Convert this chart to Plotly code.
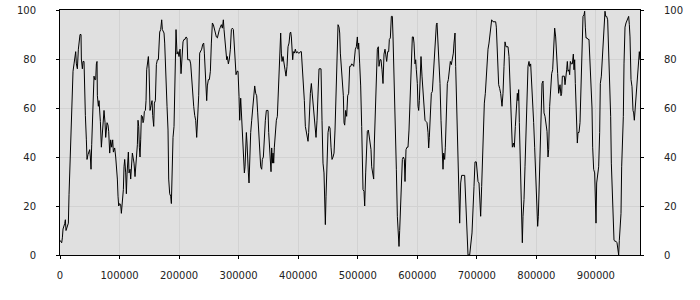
import plotly.graph_objects as go

x_values = [
    0, 1730, 2850, 3970, 5090, 7890, 9010, 10130, 12370, 14050, 15170, 16290, 17970, 19650,
    21890, 23570, 25250, 26370, 27490, 29170, 30850, 32530, 33640, 35320, 35880, 37560, 38680,
    40360, 40920, 42600, 44280, 45400, 47080, 48760, 49880, 50990, 52110, 53230, 54350, 55470,
    57150, 58270, 59950, 61070, 62190, 62750, 64430, 65550, 66670, 67790, 69470, 70590, 72270,
    73950, 75630, 76750, 77870, 78990, 80670, 81790, 83470, 85150, 86830, 88510, 89630, 91870,
    93550, 94670, 96350, 97460, 98580, 100260, 101940, 103060, 104740, 106420, 107540, 108660,
    110340, 111460, 112580, 113700, 114820, 115930, 117610, 118730, 119850, 121530, 122650,
    124330, 126010, 127130, 128250, 129930, 131050, 132170, 133290, 134410, 135530, 136650,
    138330, 139450, 140570, 141690, 143370, 144490, 145610, 146730, 148410, 149530, 151210,
    152890, 154570, 155690, 157370, 158490, 160170, 161850, 163530, 165210, 166890,
    167430, 169100, 170780, 171900, 173020, 174700, 175820, 176940, 178060, 179740, 181420,
    182540, 184220, 185900, 187020, 188140, 189820, 191500, 193180, 194850, 196530, 198210,
    199890, 201570, 203250, 204930, 206610, 208290, 209970, 211650, 213330, 214450, 216130,
    217810, 219490, 221170, 222840, 224520, 226200, 227880, 229560, 231240, 232920, 234600,
    236280, 237960, 239640, 241320, 242440, 243560, 245240, 246360, 247470, 249150, 250830,
    252510, 254190, 255870, 257550, 259230, 260910, 262590, 264270, 265950, 267630, 269310,
    270990, 272670, 274340, 275460, 276580, 278260, 279940, 281060, 282740, 284420, 286100,
    287780, 289460, 291140, 292820, 294500, 295620, 297300, 298970, 300650, 301770, 303450,
    305130, 306810, 308490, 309610, 310730, 311850, 312970, 314090, 315210, 316330, 317450,
    318560, 320240, 321920, 323600, 325280, 326960, 328640, 330320, 332000, 333680,
    335360, 337040, 338720, 339830, 341510, 343190, 344870, 346550, 348230, 349350, 350470,
    351590, 353270, 354390, 355510, 356630, 357750, 358870, 359990, 361670, 363340, 365020,
    366700, 368380, 369500, 370620, 371740, 372860, 374540, 376220, 377900, 379580, 381260,
    382940, 384620, 386300, 387420, 388540, 389650, 390770, 391890, 393570, 395250, 396930,
    398610, 400290, 401970, 403650, 405330, 407010, 408690, 410370, 412050, 413720, 415400,
    416520, 417640, 418760, 420440, 422120, 423800, 425480, 427160, 428840, 429960, 431640,
    433320, 435000, 436680, 438360, 440030, 441710, 443390, 444510, 445630, 446750, 448430,
    450110, 451790, 453470, 455150, 456830, 458510, 460190, 461870, 463550, 465230, 466910,
    468590, 469710, 470830, 472500, 474180, 475860, 476980, 478100, 479780, 481460, 483140,
    484820, 486500, 488180, 489860, 491540, 493220, 494340, 496020, 497700, 499370, 500490,
    501610,
    503290, 504970, 506650, 507770, 508880, 510560, 511680, 513360, 514480, 516160, 517840,
    519520, 521200, 522320, 523440, 524560, 525680, 526800, 527920, 529600, 531270, 532950,
    534630, 535750, 537430, 539110, 540790, 542470, 544150, 545830, 546950, 548630, 550310,
    551990, 553110, 554790, 556470, 558150, 559270, 560390, 561510, 563190, 564870, 566550,
    568220, 569340, 570460, 571580, 573260, 574940, 576620, 578300, 579420, 581100, 582780,
    584460, 586140, 587820, 588940, 590620, 591730, 593410, 594530, 596210, 597330, 598450,
    600130, 601250, 602370, 603490, 604610, 606290, 607970, 609650, 611330, 613000, 614680,
    616360, 618040, 619160, 620280, 621960, 623640, 625320, 627000, 628680, 630360, 632040,
    633160, 634840, 636510, 638190, 639870, 641550, 643230, 644350, 646030, 647150, 648830,
    650510, 652190, 653870, 655550, 657230, 658910, 660590, 661710, 663390, 664510, 666180,
    667860, 669540,
    671220, 672900, 674570, 679610, 682410, 685210, 688010, 689130, 691930, 695290, 696970,
    699200, 702010, 703680, 705360, 706480, 708160, 710400, 712640, 714320, 716560, 718800,
    720480, 722720, 724960, 727200, 729430, 731670, 732790, 734470, 736710, 738390, 740070,
    742310, 743990, 745670, 747350, 749030, 750710, 752380, 754060, 755180, 756860, 757980,
    759660, 761340, 763020, 764700, 766380, 768060, 769180, 770300, 771420, 773100, 774220,
    775340, 776460, 777570, 779250, 780930, 782610, 784290, 785970, 787650, 788770, 790450,
    792130, 793810, 795490, 797170, 798850, 800530, 802210, 803330, 805010, 806120, 807800,
    809480, 811160, 812840, 814520, 816200, 817880, 819560, 820680, 822360, 824040, 825720,
    827400, 829080, 830760, 832430, 834110, 835790, 837470,
    839710, 841390, 842510, 843630, 845300, 846980, 848100, 849220, 850900, 852020, 853140,
    854820, 855940, 857060, 858740, 860420, 862100, 863220, 864340, 865460, 866580, 867700,
    868820, 869940, 871610, 873290, 874410, 876090, 877210, 878330, 880010, 881130, 882250,
    883370, 885050, 886740, 888400, 890090, 891770, 893450, 894570, 896250, 897920, 899040,
    900160, 901280, 902960, 904640, 906320, 907440, 909120, 910800, 912480, 914160, 915280,
    916400, 918080, 919760, 921430, 923110, 924790, 925910, 927590, 929270, 930390, 932070,
    933750, 935430, 937110, 938230, 939350, 940470, 942150, 943270, 944950, 946070, 947190,
    948870, 950540, 952220, 953900, 955020, 956140, 957260, 958940, 960620, 962300, 963420,
    964540, 966220, 967340, 969020, 970700, 971820, 972940, 974060,
]

y_values = [
    6, 5, 5, 7, 10.6, 12.8, 14.4, 10, 12, 13, 24.6, 33, 49, 63,
    75, 78, 82, 83, 78, 76, 84, 86.5, 90, 90, 80, 76, 79,
    79, 68, 57, 47, 39, 41, 42, 43, 40, 35, 45, 54.5, 65,
    73, 71.6, 71.6, 78, 79, 65, 60.7, 63, 59, 54.5, 44, 48, 55,
    59, 54, 48, 51, 54, 53, 50.5, 41.6, 47, 44, 47, 42, 43.7,
    40, 37, 31, 24, 20, 21, 20.5, 17, 22.6, 26.7, 36, 39,
    33.5, 25, 33, 39, 42, 33.5, 35, 31, 35, 41.6, 40,
    37.5, 32, 36, 41.6, 45, 55, 52.5, 44, 40, 47, 57,
    56.6, 54, 55, 58.6, 59, 63, 75.6, 79, 81, 76, 59,
    61, 63, 57, 52.5, 62, 63, 77.7, 79.7, 79.7, 88,
    91, 92, 96, 92, 91, 90.6, 86.5, 77, 70, 60.7, 51,
    31, 25, 24, 21, 37.5, 48, 52.5, 77, 92, 82, 83,
    81, 84, 74, 79.7, 87, 88, 88, 89, 88.6, 79.7, 79.7,
    79.7, 78, 71.6, 64, 60.7, 57, 55, 48, 55, 65, 82.4,
    83, 84, 86, 86.5, 82.4, 75.6, 64, 63, 69, 71.6, 71.6,
    75, 86.5, 94.7, 94, 92, 91, 89, 88.6, 90.6, 92, 93,
    94, 92.6, 96, 92, 88, 84.5, 79.7, 81, 78, 80, 84,
    92, 92.6, 92, 85, 79.7, 73.6, 75, 75, 64.8, 55, 64,
    54, 50, 40, 33.5, 36, 43, 50, 45.7, 36, 33.5, 29.4,
    40, 50, 55, 59, 63, 69, 66, 65, 58, 50,
    43, 36, 35, 39, 40, 50, 55, 59, 59, 59, 50,
    44, 39, 34, 43.7, 37.5, 41.6, 37.5, 44, 52.5, 55, 56.6,
    67.5, 77, 90, 90.6, 82.4, 79, 81, 77, 75.6, 73, 77,
    85, 86.5, 90.6, 91, 89, 85, 79.7, 83, 82.4, 84, 82.4,
    83, 82.4, 82.4, 83, 83, 77, 73, 63, 52.5, 50, 48,
    46.4, 50, 60.7, 66, 70, 65, 60.7, 56.6, 48, 48, 55,
    65, 76, 76, 76, 55, 37.5, 33.5, 22.6, 12.4, 24, 40,
    50, 52.5, 51.8, 44, 39, 40, 41.6, 51, 63, 75.6, 94,
    93, 90.6, 82.4, 75.6, 69, 65, 54, 53, 59, 56.6, 65,
    66, 77, 77, 78, 77.7, 77, 81, 84, 85, 89, 84,
    86.5,
    78, 69, 52.5, 36, 26.7, 26, 20, 33.5, 43, 50.5, 51,
    48, 44, 43, 36, 33.5, 33, 31, 45.7, 62, 70, 84,
    85, 77, 79.7, 79.7, 75.6, 70, 82, 84, 82, 79, 83,
    83, 88, 88.6, 97.4, 97.4, 89, 75.6, 60.7, 52.5, 35, 15.8,
    9, 3.5, 10, 15.8, 28, 39, 40, 39, 30, 43, 44,
    44, 51, 63, 69, 82.4, 89, 89, 86.5, 78, 79.7, 75.6,
    70, 60.7, 59, 63, 71.6, 81, 73, 66, 58, 55, 54.5,
    54, 50, 43.7, 48, 59, 66, 66.7, 74, 82.4, 89, 94,
    94.7, 86.5, 81, 70, 55, 41.6, 35, 41.6, 39, 44, 63,
    70, 71.6, 77, 79, 77.7, 79.7, 82.4, 86.5, 90.6, 77, 59,
    50, 31,
    13, 29.4, 32.5, 32.5, 15.8, 0, 0, 3.5, 9, 28, 38,
    38, 30, 29.4, 20, 15.8, 28, 45.7, 62, 66, 77, 84,
    86.5, 92, 96, 95.2, 95.2, 95.2, 93, 84, 69.5, 68, 66,
    60.7, 66, 77, 87, 85, 85, 85, 81, 71.6, 63, 48.4,
    44, 45.7, 44, 52.5, 60.7, 66, 63, 67.5, 54, 35, 25,
    15.8, 5, 15.8, 22.6, 36, 52.5, 63, 77, 79, 77, 78,
    71.6, 60.7, 54, 44, 33.5, 25, 11.7, 15.8, 30.7, 44, 59,
    70, 71, 58, 56.6, 54, 50.5, 40, 43, 60.7, 70, 74,
    75.6, 85, 92.6, 89, 77, 74, 66,
    69.5, 65, 66, 73, 73, 73, 69.5, 73.6, 75.6, 79, 75,
    75.6, 73.6, 79, 78, 78, 82, 75.6, 79.7, 70, 63, 51,
    45.7, 50, 50, 54, 66, 71.6, 86.5, 97.4, 98, 99.5, 93,
    88.6, 88.6, 88, 88, 77, 63, 60, 44, 35, 33.5, 17,
    13, 29.4, 33.5, 36, 50, 70, 73, 81, 89, 96, 99.5,
    97.4, 97.4, 96, 84, 65, 56.6, 37.5, 22.6, 13, 6, 5.6,
    5.6, 5, 1.5, 0, 6, 10, 17, 36, 47, 56.6, 78,
    93, 94.7, 96, 96.6, 97.4, 94, 89, 71.6, 68.7, 59, 58,
    55, 60.7, 65, 70, 79, 81, 83, 79.7,
]

x_ticks = [0, 100000, 200000, 300000, 400000, 500000, 600000, 700000, 800000, 900000]
y_ticks = [0, 20, 40, 60, 80, 100]

font = dict(family="DejaVu Sans", size=10, color="#222222")

fig = go.Figure()
fig.add_trace(go.Scatter(x=x_values, y=y_values, mode="lines",
                         line=dict(color="#000000", width=1), showlegend=False,
                         hoverinfo="skip"))
fig.add_trace(go.Scatter(x=x_values, y=y_values, mode="lines", yaxis="y2",
                         line=dict(color="rgba(0,0,0,0)", width=0), showlegend=False,
                         hoverinfo="skip"))

axis_common = dict(showline=True, linecolor="#000000", linewidth=1, mirror=True,
                   ticks="outside", ticklen=3, tickcolor="#000000",
                   showgrid=True, gridcolor="#d2d2d2", gridwidth=1,
                   zeroline=False, tickfont=font, automargin=False)

fig.update_layout(
    width=700, height=300,
    margin=dict(l=60, r=60, t=10, b=45),
    paper_bgcolor="#ffffff",
    plot_bgcolor="#e0e0e0",
    xaxis=dict(range=[0, max(x_values)], tickvals=x_ticks, tickformat="d",
               ticklabelstandoff=8, **axis_common),
    yaxis=dict(range=[0, 100], tickvals=y_ticks, ticklabelstandoff=18, **axis_common),
    yaxis2=dict(range=[0, 100], tickvals=y_ticks, overlaying="y", side="right",
                showline=False, ticks="outside", ticklen=3, tickcolor="#000000",
                showgrid=False, zeroline=False, tickfont=font, ticklabelstandoff=18,
                automargin=False),
)

fig.write_html("out.html")
